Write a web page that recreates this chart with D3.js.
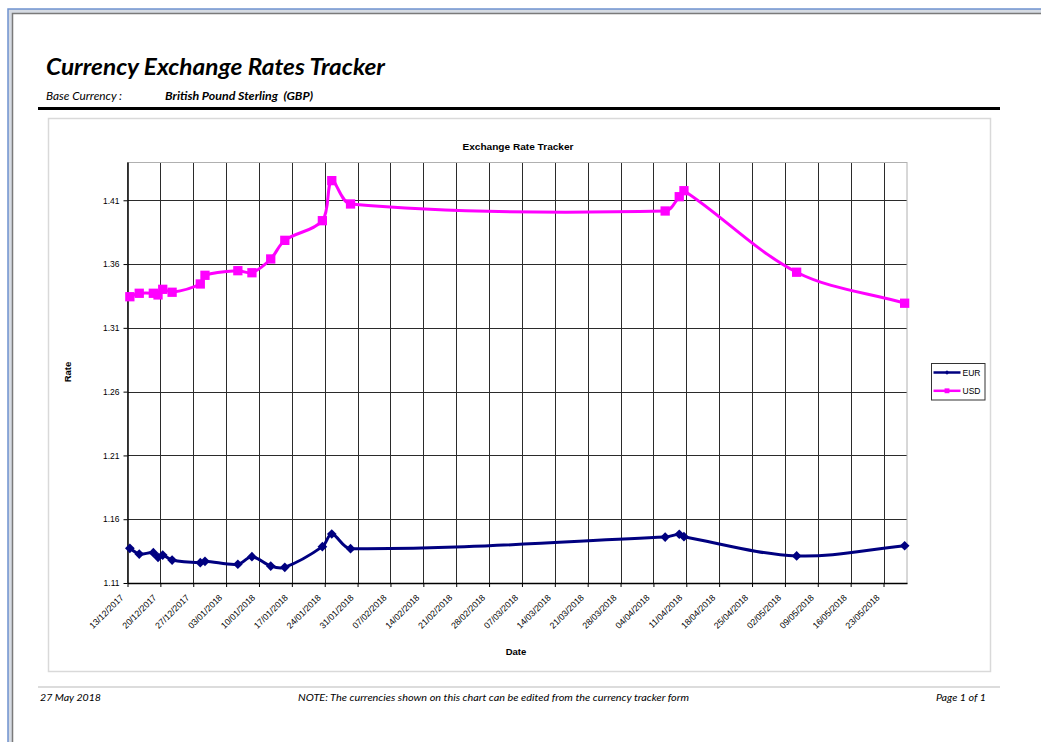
<!DOCTYPE html>
<html>
<head>
<meta charset="utf-8">
<script src="https://cdn.jsdelivr.net/npm/d3@7"></script>
<style>
  html, body { margin: 0; padding: 0; background: #fff; }
  #page { width: 1041px; height: 742px; overflow: hidden; }
  text { font-family: "Liberation Sans", Arial, sans-serif; }
  .hdr { font-family: Lato, "Open Sans", sans-serif; white-space: pre; }
</style>
</head>
<body>
<div id="page"></div>
<script>
// ---- data ----
const dates = [
  "13/12/2017", "15/12/2017", "18/12/2017", "19/12/2017", "20/12/2017",
  "22/12/2017", "28/12/2017", "29/12/2017", "05/01/2018", "08/01/2018",
  "12/01/2018", "15/01/2018", "23/01/2018", "25/01/2018", "29/01/2018",
  "06/04/2018", "09/04/2018", "10/04/2018", "04/05/2018", "27/05/2018"
];
const eurRates = [
  1.1372, 1.1327, 1.1338, 1.1301, 1.1319,
  1.1280, 1.1259, 1.1270, 1.1247, 1.1306,
  1.1233, 1.1223, 1.1385, 1.1484, 1.1369,
  1.1460, 1.1482, 1.1463, 1.1312, 1.1392
];
const usdRates = [
  1.3344, 1.3371, 1.3371, 1.3358, 1.3402,
  1.3379, 1.3444, 1.3512, 1.3548, 1.3532,
  1.3640, 1.3786, 1.3940, 1.4254, 1.4071,
  1.4016, 1.4128, 1.4175, 1.3536, 1.3293
];
const seriesNames = ["EUR", "USD"];
const yTicks = [1.11, 1.16, 1.21, 1.26, 1.31, 1.36, 1.41];
const xTickLabels = [
  "13/12/2017", "20/12/2017", "27/12/2017", "03/01/2018", "10/01/2018",
  "17/01/2018", "24/01/2018", "31/01/2018", "07/02/2018", "14/02/2018",
  "21/02/2018", "28/02/2018", "07/03/2018", "14/03/2018", "21/03/2018",
  "28/03/2018", "04/04/2018", "11/04/2018", "18/04/2018", "25/04/2018",
  "02/05/2018", "09/05/2018", "16/05/2018", "23/05/2018"
];
const axisStart = "13/12/2017";
const axisEnd = "28/05/2018";

const parse = d3.utcParse("%d/%m/%Y");
const fmt = d3.utcFormat("%d/%m/%Y");

const svg = d3.select("#page").append("svg")
  .attr("width", 1041)
  .attr("height", 742);

// squeeze text to a measured width (Calibri is narrower than what we have)
function fit(sel, w) {
  sel.attr("textLength", w).attr("lengthAdjust", "spacingAndGlyphs");
  return sel;
}

// Excel-style smoothed line: bezier through the points, tangents from
// the neighbours, scaled by segment length so short hops don't loop
function smoothPath(pts) {
  const p = d3.path();
  const dist = (a, b) => Math.hypot(b[0] - a[0], b[1] - a[1]);
  p.moveTo(pts[0][0], pts[0][1]);
  for (let i = 0; i < pts.length - 1; i++) {
    const p0 = pts[i - 1] || pts[i];
    const p1 = pts[i];
    const p2 = pts[i + 1];
    const p3 = pts[i + 2] || pts[i + 1];
    const d01 = dist(p0, p1), d12 = dist(p1, p2), d23 = dist(p2, p3);
    const f1 = d01 + d12 > 0 ? d12 / (d01 + d12) / 3 : 0;
    const f2 = d12 + d23 > 0 ? d12 / (d12 + d23) / 3 : 0;
    p.bezierCurveTo(
      p1[0] + (p2[0] - p0[0]) * f1, p1[1] + (p2[1] - p0[1]) * f1,
      p2[0] - (p3[0] - p1[0]) * f2, p2[1] - (p3[1] - p1[1]) * f2,
      p2[0], p2[1]
    );
  }
  return p.toString();
}

//=== window frame ===
svg.append("rect").attr("x", 8).attr("y", 9).attr("width", 1040).attr("height", 740)
  .attr("fill", "#d6dbe3").attr("stroke", "#6f93cf").attr("stroke-width", 1.5);
svg.append("rect").attr("x", 12.5).attr("y", 13.5).attr("width", 1040).attr("height", 740)
  .attr("fill", "#fff").attr("stroke", "#7a7a7a").attr("stroke-width", 1.5);

//=== report header ===
fit(svg.append("text").attr("class", "hdr")
  .attr("x", 46).attr("y", 75)
  .style("font-size", "23px").style("font-weight", 700).style("font-style", "italic")
  .text("Currency Exchange Rates Tracker"), 339);

fit(svg.append("text").attr("class", "hdr")
  .attr("x", 46).attr("y", 100)
  .style("font-size", "11px").style("font-style", "italic")
  .text("Base Currency :"), 76);

fit(svg.append("text").attr("class", "hdr")
  .attr("x", 165).attr("y", 100)
  .style("font-size", "11px").style("font-weight", 700).style("font-style", "italic")
  .text("British Pound Sterling  (GBP)"), 148);

svg.append("line").attr("x1", 38).attr("x2", 1000).attr("y1", 108.5).attr("y2", 108.5)
  .attr("stroke", "#000").attr("stroke-width", 3);

//=== chart box ===
svg.append("rect").attr("x", 48.5).attr("y", 118.5).attr("width", 942).attr("height", 553)
  .attr("fill", "#fff").attr("stroke", "#d9d9d9").attr("stroke-width", 1.5);

const plot = { left: 127.5, right: 907, top: 162, bottom: 583 };

const x = d3.scaleUtc()
  .domain([parse(axisStart), parse(axisEnd)])
  .range([plot.left, plot.right]);

const y = d3.scaleLinear()
  .domain([1.11, 1.44])
  .range([plot.bottom, plot.top]);

// points sit in the middle of their day, like a date axis in Excel
const midDay = (s) => d3.utcHour.offset(parse(s), 12);

const tickDates = xTickLabels.map(parse);

//=== grid ===
const grid = svg.append("g");
grid.selectAll(".vg").data(tickDates.slice(1)).join("line")
  .attr("x1", (d) => Math.round(x(d)) + 0.5).attr("x2", (d) => Math.round(x(d)) + 0.5)
  .attr("y1", plot.top).attr("y2", plot.bottom)
  .attr("stroke", "#2b2b2b").attr("stroke-width", 1);
grid.selectAll(".hg").data(yTicks.slice(1)).join("line")
  .attr("x1", plot.left).attr("x2", plot.right)
  .attr("y1", (d) => Math.round(y(d)) + 0.5).attr("y2", (d) => Math.round(y(d)) + 0.5)
  .attr("stroke", "#2b2b2b").attr("stroke-width", 1);

svg.append("rect")
  .attr("x", plot.left).attr("y", plot.top + 0.5)
  .attr("width", plot.right - plot.left).attr("height", plot.bottom - plot.top)
  .attr("fill", "none").attr("stroke", "#b0b0b0").attr("stroke-width", 1);

//=== axes ===
const xAxis = svg.append("g")
  .attr("transform", `translate(0,${plot.bottom})`)
  .call(d3.axisBottom(x).tickValues(tickDates).tickFormat(fmt).tickSize(4).tickSizeOuter(0));
xAxis.select(".domain").attr("stroke", "#000").attr("stroke-width", 1.5);
xAxis.selectAll(".tick line").attr("stroke", "#000");
xAxis.selectAll(".tick text")
  .attr("font-family", "Liberation Sans, Arial, sans-serif")
  .attr("font-size", 8.8)
  .attr("fill", "#000")
  .attr("text-anchor", "end")
  .attr("y", 0)
  .attr("dy", "0.35em")
  .attr("transform", "translate(-6,13) rotate(-45)");

const yAxis = svg.append("g")
  .attr("transform", `translate(${plot.left},0)`)
  .call(d3.axisLeft(y).tickValues(yTicks).tickFormat(d3.format(".2f")).tickSize(4).tickSizeOuter(0));
yAxis.select(".domain").attr("stroke", "#000").attr("stroke-width", 1.5);
yAxis.selectAll(".tick line").attr("stroke", "#000");
yAxis.selectAll(".tick text")
  .attr("font-family", "Liberation Sans, Arial, sans-serif")
  .attr("font-size", 8.5)
  .attr("fill", "#000")
  .attr("x", -8);

//=== titles ===
fit(svg.append("text").attr("x", 518).attr("y", 150).attr("text-anchor", "middle")
  .style("font-size", "9.5px").style("font-weight", 700)
  .text("Exchange Rate Tracker"), 111);

svg.append("text").attr("transform", "translate(71,372) rotate(-90)")
  .attr("text-anchor", "middle")
  .style("font-size", "9.5px").style("font-weight", 700)
  .text("Rate");

svg.append("text").attr("x", 516).attr("y", 655).attr("text-anchor", "middle")
  .style("font-size", "9.5px").style("font-weight", 700)
  .text("Date");

//=== series ===
const series = [
  { name: seriesNames[0], values: eurRates, color: "#000080", marker: "diamond" },
  { name: seriesNames[1], values: usdRates, color: "#ff00ff", marker: "square" }
];

series.forEach((s) => {
  const pts = dates.map((d, i) => ({ date: midDay(d), rate: s.values[i] }));
  svg.append("path")
    .datum(pts)
    .attr("fill", "none")
    .attr("stroke", s.color)
    .attr("stroke-width", 3)
    .attr("stroke-linejoin", "round")
    .attr("d", (d) => smoothPath(d.map((p) => [x(p.date), y(p.rate)])));

  const markerPath = s.marker === "diamond"
    ? d3.symbol().type(d3.symbolSquare2).size(60)()
    : d3.symbol().type(d3.symbolSquare2).size(110)();
  svg.append("g").selectAll("path").data(pts).join("path")
    .attr("transform", (d) => `translate(${x(d.date)},${y(d.rate)})${s.marker === "diamond" ? " rotate(45)" : ""}`)
    .attr("d", markerPath)
    .attr("fill", s.color)
    .attr("stroke", "none");
});

//=== legend ===
const legend = svg.append("g").attr("transform", "translate(931.5,363.5)");
legend.append("rect").attr("width", 53.5).attr("height", 36.5)
  .attr("fill", "#fff").attr("stroke", "#333").attr("stroke-width", 1);
series.forEach((s, i) => {
  const ly = 9 + i * 18.3;
  legend.append("line").attr("x1", 2).attr("x2", 29).attr("y1", ly).attr("y2", ly)
    .attr("stroke", s.color).attr("stroke-width", 2.5);
  legend.append("path")
    .attr("transform", `translate(15.5,${ly})${s.marker === "diamond" ? " rotate(45)" : ""}`)
    .attr("d", d3.symbol().type(d3.symbolSquare2).size(s.marker === "diamond" ? 12 : 30)())
    .attr("fill", s.color);
  legend.append("text").attr("x", 31).attr("y", ly + 3.2)
    .style("font-size", "8.5px")
    .text(s.name);
});

//=== footer ===
svg.append("line").attr("x1", 38).attr("x2", 1000).attr("y1", 687).attr("y2", 687)
  .attr("stroke", "#dcdcdc").attr("stroke-width", 2);

fit(svg.append("text").attr("class", "hdr").attr("x", 40).attr("y", 701)
  .style("font-size", "10px").style("font-style", "italic")
  .text("27 May 2018"), 61);

fit(svg.append("text").attr("class", "hdr").attr("x", 298).attr("y", 701)
  .style("font-size", "10px").style("font-style", "italic")
  .text("NOTE: The currencies shown on this chart can be edited from the currency tracker form"), 391);

fit(svg.append("text").attr("class", "hdr").attr("x", 936).attr("y", 701)
  .style("font-size", "10px").style("font-style", "italic")
  .text("Page 1 of 1"), 50);
</script>
</body>
</html>
